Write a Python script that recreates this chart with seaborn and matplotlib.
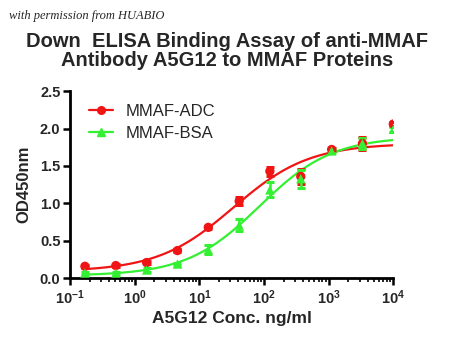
"""
ELISA binding curve for A5G12 against MMAF-ADC / MMAF-BSA.

Prism-style plot: points with SD bars and a 4PL fit per series.
"""

import numpy as np
import pandas as pd
import matplotlib
matplotlib.use('Agg')
import matplotlib.pyplot as plt
import seaborn as sns

# --- Data ---
conc = [0.169, 0.508, 1.52, 4.57, 13.7, 41.2, 123, 370, 1111, 3333, 10000]

adc_od = [0.16, 0.17, 0.21, 0.37, 0.68, 1.03, 1.43, 1.36, 1.72, 1.80, 2.06]
adc_sd = [0.02, 0.02, 0.02, 0.02, 0.02, 0.05, 0.06, 0.10, 0.02, 0.09, 0.03]

bsa_od = [0.07, 0.07, 0.11, 0.19, 0.38, 0.71, 1.18, 1.33, 1.70, 1.80, 1.99]
bsa_sd = [0.02, 0.02, 0.03, 0.02, 0.06, 0.08, 0.10, 0.12, 0.03, 0.07, 0.03]

series_names = ["MMAF-ADC", "MMAF-BSA"]
colors = {"MMAF-ADC": "#f01414", "MMAF-BSA": "#33f033"}
markers = {"MMAF-ADC": "o", "MMAF-BSA": "^"}


def fit_4pl(x, y):
    """Least-squares 4PL fit (grid over logEC50/hill, linear solve for bottom/top)."""
    lx = np.log10(x)
    y = np.asarray(y)
    logec = np.arange(0.0, 3.5, 0.005)
    hill = np.arange(0.4, 2.5, 0.01)
    L, H = np.meshgrid(logec, hill, indexing="ij")
    s = 1.0 / (1.0 + 10 ** ((L[..., None] - lx) * H[..., None]))
    a = 1.0 - s
    saa, sss, sas = (a * a).sum(-1), (s * s).sum(-1), (a * s).sum(-1)
    say, ssy = (a * y).sum(-1), (s * y).sum(-1)
    det = saa * sss - sas ** 2
    bottom = (sss * say - sas * ssy) / det
    top = (saa * ssy - sas * say) / det
    resid = ((bottom[..., None] * a + top[..., None] * s - y) ** 2).sum(-1)
    i, j = np.unravel_index(np.argmin(resid), resid.shape)
    return bottom[i, j], top[i, j], logec[i], hill[j]


def curve(params, xs):
    bottom, top, logec, h = params
    return bottom + (top - bottom) / (1 + 10 ** ((logec - np.log10(xs)) * h))


points = pd.DataFrame({
    "conc": conc * 2,
    "od": adc_od + bsa_od,
    "sd": adc_sd + bsa_sd,
    "sample": [series_names[0]] * len(conc) + [series_names[1]] * len(conc),
})

xs = np.logspace(np.log10(conc[0]), np.log10(conc[-1]), 300)
fits = []
for name, od in zip(series_names, [adc_od, bsa_od]):
    # top dose treated as an outlier (it sits well above the plateau)
    params = fit_4pl(conc[:-1], od[:-1])
    fits.append(pd.DataFrame({"conc": xs, "od": curve(params, xs), "sample": name}))
fits = pd.concat(fits, ignore_index=True)

# --- Style ---
sns.set_theme(style="ticks")
plt.rcParams['font.family'] = ['Liberation Sans', 'DejaVu Sans']
plt.rcParams['mathtext.fontset'] = 'custom'
plt.rcParams['mathtext.rm'] = 'Liberation Sans'
plt.rcParams['mathtext.bf'] = 'Liberation Sans:bold'

fig = plt.figure(figsize=(4.5, 3.6), dpi=100)
ax = fig.add_axes([0.156, 0.227, 0.718, 0.52])

sns.lineplot(data=fits, x="conc", y="od", hue="sample", palette=colors,
             linewidth=1.6, legend=False, ax=ax)

for name in series_names:
    d = points[points["sample"] == name]
    ax.errorbar(d["conc"], d["od"], yerr=d["sd"], fmt="none",
                ecolor=colors[name], elinewidth=1.8, capsize=3, capthick=2.2,
                zorder=3)
sns.scatterplot(data=points, x="conc", y="od", hue="sample", style="sample",
                palette=colors, markers=markers, s=45, edgecolor="none",
                legend=False, ax=ax, zorder=4)

ax.set_xscale("log")
ax.set_xlim(0.1, 10000)
ax.set_ylim(0, 2.5)
ax.set_yticks([0, 0.5, 1.0, 1.5, 2.0, 2.5])
ax.set_yticklabels([f"{v:.1f}" for v in [0, 0.5, 1.0, 1.5, 2.0, 2.5]])
ax.set_xticks([0.1, 1, 10, 100, 1000, 10000])
ax.set_xticklabels([rf"$\mathbf{{10^{{{e}}}}}$" for e in range(-1, 5)])
ax.xaxis.set_minor_locator(matplotlib.ticker.LogLocator(base=10, subs=np.arange(2, 10)))
ax.xaxis.set_minor_formatter(matplotlib.ticker.NullFormatter())

for side in ["top", "right"]:
    ax.spines[side].set_visible(False)
for side in ["left", "bottom"]:
    ax.spines[side].set_linewidth(2)
    ax.spines[side].set_color("black")
ax.tick_params(axis="both", which="major", width=1.8, length=5, color="black",
               labelsize=10.5, pad=2)
ax.tick_params(axis="x", which="minor", width=1.2, length=3, color="black")
for lab in ax.get_yticklabels():
    lab.set_fontweight("bold")

ax.set_xlabel("A5G12 Conc. ng/ml", fontsize=12.5, fontweight="bold", labelpad=3)
ax.set_ylabel("OD450nm", fontsize=12, fontweight="bold", labelpad=6)

# legend
handles = [matplotlib.lines.Line2D([], [], color=colors[n], marker=markers[n],
                                   markersize=5.5, linewidth=1.6) for n in series_names]
ax.legend(handles, series_names, loc="upper left", bbox_to_anchor=(0.059, 0.93),
          frameon=False, fontsize=12, handlelength=1.45, labelspacing=0.42,
          handletextpad=0.75, borderpad=0, borderaxespad=0)

fig.text(0.505, 0.858, "Down  ELISA Binding Assay of anti-MMAF\nAntibody A5G12 to MMAF Proteins",
         ha="center", va="center", fontsize=14.5, fontweight="bold", linespacing=1.05)
fig.text(0.02, 0.955, "with permission from HUABIO", fontsize=9, style="italic",
         family="Liberation Serif", va="center")

fig.savefig("out.png", dpi=100)
plt.close(fig)
